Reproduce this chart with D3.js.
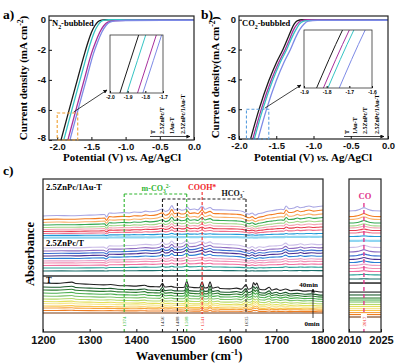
<!DOCTYPE html>
<html lang="en">
<head>
<meta charset="utf-8">
<title>LSV curves and in-situ DRIFTS spectra</title>
<script src="https://cdn.jsdelivr.net/npm/d3@7"></script>
<style>
  body { margin: 0; background: #fff; }
  svg { display: block; font-family: "Liberation Serif", "Times New Roman", serif; font-weight: bold; }
</style>
</head>
<body>
<script>
// ---------- panels a, b : LSV curves, [potential (V), current (mA cm-2)]
var n2T     = [[-1.95,-8.1],[-1.82,-5.9],[-1.70,-3.9],[-1.60,-2.25],[-1.55,-1.5],[-1.50,-0.85],[-1.45,-0.4],[-1.40,-0.12],[-1.35,-0.02],[-1.30,0],[0,0]];
var n2ZnT   = [[-1.91,-8.1],[-1.78,-5.9],[-1.66,-3.9],[-1.56,-2.25],[-1.51,-1.5],[-1.46,-0.85],[-1.41,-0.4],[-1.36,-0.12],[-1.31,-0.02],[-1.25,0],[0,0]];
var n2AuT   = [[-1.85,-8.1],[-1.72,-5.9],[-1.60,-3.9],[-1.50,-2.25],[-1.44,-1.5],[-1.38,-0.85],[-1.32,-0.4],[-1.26,-0.16],[-1.18,-0.07],[-1.00,-0.04],[0,-0.03]];
var n2ZnAuT = [[-1.82,-8.1],[-1.69,-5.9],[-1.57,-3.9],[-1.47,-2.25],[-1.41,-1.5],[-1.35,-0.85],[-1.29,-0.4],[-1.23,-0.16],[-1.15,-0.07],[-1.00,-0.05],[0,-0.04]];

var co2T     = [[-1.85,-8.1],[-1.73,-6.0],[-1.60,-4.1],[-1.50,-2.9],[-1.41,-2.0],[-1.35,-1.3],[-1.30,-0.7],[-1.26,-0.3],[-1.22,-0.08],[-1.15,0],[0,0]];
var co2AuT   = [[-1.82,-8.1],[-1.70,-6.0],[-1.57,-4.1],[-1.47,-2.9],[-1.38,-2.0],[-1.32,-1.3],[-1.27,-0.7],[-1.22,-0.3],[-1.17,-0.08],[-1.08,0],[0,0]];
var co2ZnT   = [[-1.80,-8.1],[-1.68,-6.0],[-1.55,-4.1],[-1.45,-2.9],[-1.36,-2.0],[-1.30,-1.3],[-1.24,-0.7],[-1.19,-0.3],[-1.13,-0.1],[-1.02,-0.04],[0,-0.03]];
var co2ZnAuT = [[-1.75,-8.1],[-1.63,-6.0],[-1.50,-4.1],[-1.40,-2.9],[-1.31,-2.0],[-1.25,-1.3],[-1.19,-0.7],[-1.13,-0.3],[-1.07,-0.1],[-0.95,-0.05],[0,-0.04]];

var lsvTicksX = [-2.0, -1.5, -1.0, -0.5, 0.0];
var lsvTicksY = [0, -2, -4, -6, -8];
var colT = "#1a1a1a", colZnT = "#35c4c4", colAuT = "#a8309c", colZnAuT = "#7d8ae6";

// ---------- panel c : DRIFTS spectra (wavenumber, absorbance a.u.)
var wnTicks = [1200, 1300, 1400, 1500, 1600, 1700, 1800];
var coTicks = [2010, 2025];

// 2.5ZnPc/1Au-T
var shapeZnAu = [[1200,0],[1230,0.3],[1260,0.2],[1290,0.5],[1320,0.8],[1332,1.0],[1336,-0.6],[1342,2.0],[1350,1.8],[1370,2.2],[1385,2.0],[1395,2.6],[1410,2.4],[1420,3.2],[1430,2.8],[1445,3.4],[1456,4.6],[1462,3.0],[1470,4.0],[1476,6.8],[1482,4.0],[1490,4.6],[1497,3.8],[1505,4.2],[1509,6.0],[1515,4.2],[1525,4.6],[1532,4.0],[1541,6.6],[1547,4.4],[1558,5.6],[1565,4.2],[1580,4.0],[1600,3.8],[1615,3.6],[1628,3.0],[1635,1.8],[1642,1.2],[1648,2.0],[1655,0.6],[1662,1.6],[1670,2.0],[1680,3.0],[1690,3.4],[1700,4.0],[1710,4.4],[1716,4.2],[1721,6.6],[1727,4.8],[1738,5.2],[1745,6.2],[1752,5.4],[1760,5.8],[1770,6.6],[1780,5.8],[1790,6.2],[1800,6.6]];
var offZnAu = [75.8, 73.5, 71.6, 69.9, 68.3, 67.0, 65.7, 64.4, 63.1, 61.6];
var ampZnAu = [1.0, 0.95, 0.85, 0.75, 0.65, 0.55, 0.45, 0.35, 0.2, 0.1];
var colZnAu = ["#a9a6e3", "#f37d22", "#f8b06a", "#33a852", "#a3d88a", "#f4a3b3", "#e73a4e", "#ee6f8c", "#2299d8", "#8fd6f2"];
var coOffZnAu = [79.1, 75.4, 73.5, 71.2, 69.3, 68.0, 66.3, 64.7, 62.4, 59.5];

// 2.5ZnPc/T
var shapeZn = [[1200,0],[1240,0.2],[1270,0.1],[1300,0.4],[1330,0.6],[1336,-0.3],[1342,1.4],[1360,1.3],[1380,1.6],[1400,1.8],[1420,2.4],[1435,2.0],[1450,2.6],[1456,4.0],[1462,2.4],[1470,2.8],[1476,4.6],[1482,2.8],[1495,2.8],[1501,3.4],[1508,5.0],[1514,3.0],[1525,3.2],[1541,4.6],[1547,3.0],[1558,4.0],[1565,2.8],[1580,2.6],[1600,2.2],[1620,1.8],[1635,0.6],[1642,0.0],[1648,1.0],[1655,-0.2],[1663,0.8],[1672,0.4],[1685,1.2],[1700,1.4],[1712,1.8],[1720,3.2],[1727,1.8],[1745,2.2],[1752,2.8],[1760,2.0],[1775,2.6],[1790,2.2],[1800,2.4]];
var offZn = [54.9, 52.9, 51.3, 49.7, 48.0, 46.4, 45.1, 43.5, 41.8, 39.9, 36.6];
var ampZn = [1.0, 0.95, 0.85, 0.8, 0.7, 0.55, 0.45, 0.35, 0.25, 0.1, 0];
var colZn = ["#cbbde8", "#8e6cc0", "#3b6fd0", "#4b2f93", "#2a7fd4", "#e9a1c8", "#f28fb4", "#f06fa0", "#2aa198", "#1b6e6a", "#333333"];
var coOffZn = [55.2, 52.3, 49.7, 47.4, 45.4, 43.5, 41.5, 39.5, 37.3, 34.6, 32.0];

// T
var shapeT = [[1200,0],[1230,-0.2],[1262,0.6],[1270,-0.3],[1300,-0.8],[1330,-1.2],[1345,-1.0],[1360,-1.6],[1380,-1.8],[1400,-2.0],[1418,-1.4],[1425,-2.2],[1440,-2.4],[1450,-2.5],[1456,-0.2],[1461,-2.6],[1475,-2.2],[1482,-2.8],[1495,-2.9],[1503,-2.7],[1508,1.2],[1513,-2.6],[1525,-3.0],[1535,-3.1],[1541,0.8],[1546,-3.2],[1553,-3.0],[1558,0.8],[1563,-3.3],[1575,-2.6],[1580,-3.6],[1600,-3.8],[1615,-3.3],[1625,-4.0],[1635,-1.2],[1640,-4.1],[1648,-3.0],[1651,0.4],[1655,-1.2],[1658,0.0],[1664,-4.0],[1675,-4.4],[1685,-2.8],[1690,-4.6],[1700,-3.8],[1708,-4.8],[1720,-3.9],[1730,-5.0],[1745,-4.6],[1760,-5.3],[1775,-5.0],[1790,-5.7],[1800,-5.9]];
var offT = [32.0, 29.4, 27.5, 25.5, 23.5, 21.6, 19.9, 18.6, 17.0, 15.7, 14.1, 12.4];
var ampT = [1.0, 0.9, 0.8, 0.7, 0.6, 0.55, 0.5, 0.45, 0.35, 0.25, 0.15, 0];
var colTgrp = ["#222222", "#1e5c2e", "#2e7d32", "#4caf50", "#7cc26a", "#b5d96a", "#e3e05a", "#f5e68c", "#f9c74f", "#f6a03c", "#ef7d22", "#7a3b10"];
var coOffT = [26.1, 24.2, 22.2, 20.9, 19.6, 18.0, 16.7, 15.4, 14.1, 12.7, 11.4, 9.8];

// CO band around 2017 cm-1 (relative profile)
var coShape = [[2010,0],[2012,0.05],[2014,0.25],[2015.5,0.6],[2017,1],[2018.5,0.6],[2020,0.25],[2022,0.05],[2025,0]];
var coPeak = [2.2, 1.6, 0];

var peaks = [1374, 1456, 1488, 1508, 1541, 1635];
var peakColors = ["#2fb52f", "#222", "#222", "#2fb52f", "#f02828", "#222"];

var svg = d3.select("body").append("svg").attr("width", 401).attr("height", 364);
var defs = svg.append("defs");
defs.append("marker").attr("id", "arr").attr("viewBox", "0 0 10 10")
    .attr("refX", 9).attr("refY", 5).attr("markerWidth", 5).attr("markerHeight", 5)
    .attr("orient", "auto")
  .append("path").attr("d", "M0,0L10,5L0,10z").attr("fill", "#111");

// text with sub/superscripts; parts = [[text, "sub"|"sup"|"", italic]]
function rich(sel, parts, size) {
    var cur = 0;
    parts.forEach(function(p) {
        var target = p[1] === "sub" ? size * 0.3 : (p[1] === "sup" ? -size * 0.4 : 0);
        var t = sel.append("tspan").attr("dy", target - cur).text(p[0]);
        if (p[1]) t.attr("font-size", size * 0.7);
        if (p[2]) t.attr("font-style", "italic");
        cur = target;
    });
    return sel;
}

function fmtV(d) { return d.toFixed(1); }

function drawLSV(o) {
    var g = svg.append("g");
    var x = d3.scaleLinear().domain(o.xDom).range([o.left, o.right]);
    var y = d3.scaleLinear().domain([-8, 0.25]).range([o.bottom, o.top]);
    var line = d3.line().curve(d3.curveMonotoneX)
        .x(function(d) { return x(d[0]); }).y(function(d) { return y(d[1]); });

    defs.append("clipPath").attr("id", o.id + "clip").append("rect")
        .attr("x", o.left).attr("y", o.top).attr("width", o.right - o.left).attr("height", o.bottom - o.top);

    g.append("g").attr("clip-path", "url(#" + o.id + "clip)")
        .selectAll("path").data(o.curves).enter().append("path")
        .attr("d", function(d) { return line(d.pts); })
        .attr("fill", "none").attr("stroke", function(d) { return d.color; }).attr("stroke-width", 1.3);

    var xa = g.append("g").attr("transform", "translate(0," + o.bottom + ")")
        .call(d3.axisBottom(x).tickValues(lsvTicksX).tickFormat(fmtV).tickSize(-3).tickPadding(3));
    var ya = g.append("g").attr("transform", "translate(" + o.left + ",0)")
        .call(d3.axisLeft(y).tickValues(lsvTicksY).tickFormat(function(d) { return String(d); }).tickSize(-3).tickPadding(3));
    [xa, ya].forEach(function(a) {
        a.select(".domain").remove();
        a.selectAll("text").attr("font-size", 9.5).attr("font-family", null).attr("fill", "#111");
        a.selectAll("line").attr("stroke", "#111");
    });
    // lift the bottom y label a little so it clears the first x label
    ya.selectAll(".tick").filter(function(d) { return d === -8; }).select("text").attr("dy", "0.1em");
    g.append("rect").attr("x", o.left).attr("y", o.top)
        .attr("width", o.right - o.left).attr("height", o.bottom - o.top)
        .attr("fill", "none").attr("stroke", "#222").attr("stroke-width", 1.2);

    // dashed zoom box
    var b = o.inset;
    g.append("rect").attr("x", x(b.xDom[0])).attr("y", y(b.yDom[1]))
        .attr("width", x(b.xDom[1]) - x(b.xDom[0])).attr("height", y(b.yDom[0]) - y(b.yDom[1]))
        .attr("fill", "none").attr("stroke", o.boxColor).attr("stroke-width", 1.1).attr("stroke-dasharray", "3,2");
    g.append("line").attr("x1", x(b.xDom[1]) - 4).attr("y1", y(b.yDom[1]) - 1)
        .attr("x2", b.x0 - 3).attr("y2", b.y1 - 3)
        .attr("stroke", "#111").attr("stroke-width", 0.8).attr("marker-end", "url(#arr)");

    // inset
    var ix = d3.scaleLinear().domain(b.xDom).range([b.x0, b.x1]);
    var iy = d3.scaleLinear().domain(b.yDom).range([b.y1, b.y0]);
    var iline = d3.line().curve(d3.curveMonotoneX)
        .x(function(d) { return ix(d[0]); }).y(function(d) { return iy(d[1]); });
    defs.append("clipPath").attr("id", o.id + "iclip").append("rect")
        .attr("x", b.x0).attr("y", b.y0).attr("width", b.x1 - b.x0).attr("height", b.y1 - b.y0);
    g.append("rect").attr("x", b.x0).attr("y", b.y0).attr("width", b.x1 - b.x0).attr("height", b.y1 - b.y0)
        .attr("fill", "#fff");
    g.append("g").attr("clip-path", "url(#" + o.id + "iclip)")
        .selectAll("path").data(o.curves).enter().append("path")
        .attr("d", function(d) { return iline(d.pts); })
        .attr("fill", "none").attr("stroke", function(d) { return d.color; }).attr("stroke-width", 1);
    var ia = g.append("g").attr("transform", "translate(0," + b.y1 + ")")
        .call(d3.axisBottom(ix).tickValues(b.ticks).tickFormat(fmtV).tickSize(-2).tickPadding(2));
    ia.select(".domain").remove();
    ia.selectAll("text").attr("font-size", 5).attr("font-family", null);
    g.append("rect").attr("x", b.x0).attr("y", b.y0).attr("width", b.x1 - b.x0).attr("height", b.y1 - b.y0)
        .attr("fill", "none").attr("stroke", "#333").attr("stroke-width", 0.8);

    // titles
    rich(g.append("text").attr("x", o.left + 3).attr("y", 26).attr("font-size", 8.5), o.gas, 8.5);
    rich(g.append("text").attr("transform", "translate(" + o.yTitleX + "," + ((o.top + o.bottom) / 2) + ") rotate(-90)")
        .attr("text-anchor", "middle").attr("font-size", 11),
        [[o.yTitle, ""], ["-2", "sup"], [")", ""]], 11);
    rich(g.append("text").attr("x", o.xTitleX).attr("y", 161).attr("text-anchor", "middle").attr("font-size", 11),
        [["Potential (V) ", ""], ["vs.", "", true], [" Ag/AgCl", ""]], 11);
    g.append("text").attr("x", o.labelX).attr("y", 19).attr("font-size", 13.5).text(o.label);

    // rotated legend
    o.legend.forEach(function(name, i) {
        g.append("text").attr("transform", "translate(" + o.legendX[i] + ",134) rotate(-90)")
            .attr("dy", "0.35em").attr("font-size", 6).text(name);
    });
    g.append("line").attr("x1", o.legendX[0] - 3).attr("x2", o.legendX[3] + 7)
        .attr("y1", 136.5).attr("y2", 136.5)
        .attr("stroke", "#111").attr("stroke-width", 0.8).attr("marker-end", "url(#arr)");
}

drawLSV({
    id: "a", label: "a)", labelX: 3, left: 49, right: 194, top: 16, bottom: 140, xDom: [-2.12, 0],
    curves: [{pts: n2T, color: colT}, {pts: n2ZnT, color: colZnT}, {pts: n2AuT, color: colAuT}, {pts: n2ZnAuT, color: colZnAuT}],
    inset: {x0: 110, x1: 163, y0: 35, y1: 93, xDom: [-2.0, -1.7], yDom: [-8, -6.2], ticks: [-2.0, -1.9, -1.8, -1.7]},
    boxColor: "#f0a030",
    gas: [["N", ""], ["2", "sub"], ["-bubbled", ""]],
    yTitle: "Current density (mA cm", yTitleX: 27, xTitleX: 122,
    legend: ["T", "2.5ZnPc/T", "1Au-T", "2.5ZnPc/1Au-T"], legendX: [153, 162, 172, 183]
});
drawLSV({
    id: "b", label: "b)", labelX: 201, left: 239, right: 388, top: 16, bottom: 139, xDom: [-2.0, 0],
    curves: [{pts: co2T, color: colT}, {pts: co2AuT, color: colAuT}, {pts: co2ZnT, color: colZnT}, {pts: co2ZnAuT, color: colZnAuT}],
    inset: {x0: 304, x1: 372, y0: 30, y1: 88, xDom: [-1.9, -1.6], yDom: [-8, -6], ticks: [-1.9, -1.8, -1.7, -1.6]},
    boxColor: "#5a9fe0",
    gas: [["CO", ""], ["2", "sub"], ["-bubbled", ""]],
    yTitle: "Current density(mA cm", yTitleX: 219, xTitleX: 313,
    legend: ["T", "1Au-T", "2.5ZnPc/T", "2.5ZnPc/1Au-T"], legendX: [347, 355, 365, 377]
});

// ---------- panel c
var cTop = 179, cBottom = 332;
var xw = d3.scaleLinear().domain([1200, 1800]).range([43, 323]);
var xc = d3.scaleLinear().domain([2010, 2025]).range([349, 381]);
var ya = d3.scaleLinear().domain([0, 100]).range([cBottom, cTop]);

var groups = [
    {shape: shapeZnAu, offs: offZnAu, amps: ampZnAu, colors: colZnAu, coOffs: coOffZnAu, co: coPeak[0]},
    {shape: shapeZn, offs: offZn, amps: ampZn, colors: colZn, coOffs: coOffZn, co: coPeak[1]},
    {shape: shapeT, offs: offT, amps: ampT, colors: colTgrp, coOffs: coOffT, co: coPeak[2]}
];
var spectra = [];
groups.forEach(function(gr, gi) {
    gr.offs.forEach(function(off, i) {
        spectra.push({
            color: gr.colors[i],
            width: (gi === 0 && i === gr.offs.length - 1) ? 2.2 : ((gi === 1 && i === gr.offs.length - 1) ? 1.6 : 1.1),
            main: gr.shape.map(function(p) { return [p[0], off + gr.amps[i] * p[1]]; }),
            co: coShape.map(function(p) { return [p[0], gr.coOffs[i] + gr.co * gr.amps[i] * p[1]]; })
        });
    });
});
spectra.reverse();

var lineMain = d3.line().curve(d3.curveMonotoneX).x(function(d) { return xw(d[0]); }).y(function(d) { return ya(d[1]); });
var lineCO = d3.line().curve(d3.curveMonotoneX).x(function(d) { return xc(d[0]); }).y(function(d) { return ya(d[1]); });

defs.append("clipPath").attr("id", "cclip").append("rect").attr("x", 43).attr("y", cTop).attr("width", 280).attr("height", cBottom - cTop);
defs.append("clipPath").attr("id", "coclip").append("rect").attr("x", 349).attr("y", cTop).attr("width", 32).attr("height", cBottom - cTop);

var gc = svg.append("g");
gc.append("g").attr("clip-path", "url(#cclip)").selectAll("path").data(spectra).enter().append("path")
    .attr("d", function(d) { return lineMain(d.main); })
    .attr("fill", "none").attr("stroke", function(d) { return d.color; }).attr("stroke-width", function(d) { return d.width; });
gc.append("g").attr("clip-path", "url(#coclip)").selectAll("path").data(spectra).enter().append("path")
    .attr("d", function(d) { return lineCO(d.co); })
    .attr("fill", "none").attr("stroke", function(d) { return d.color; }).attr("stroke-width", function(d) { return d.width; });

// dashed guide boxes and peak lines
var dash = "3,2";
function vline(wn, top, color) {
    gc.append("line").attr("x1", xw(wn)).attr("x2", xw(wn)).attr("y1", top).attr("y2", cBottom)
        .attr("stroke", color).attr("stroke-width", 1.1).attr("stroke-dasharray", dash);
}
var tops = [194, 199, 203, 194, 192, 199];
peaks.forEach(function(p, i) { vline(p, tops[i], peakColors[i]); });
gc.append("line").attr("x1", xw(1374)).attr("x2", xw(1508)).attr("y1", 194).attr("y2", 194)
    .attr("stroke", peakColors[0]).attr("stroke-width", 1.1).attr("stroke-dasharray", dash);
gc.append("line").attr("x1", xw(1456)).attr("x2", xw(1635)).attr("y1", 199).attr("y2", 199)
    .attr("stroke", "#222").attr("stroke-width", 1.1).attr("stroke-dasharray", dash);
gc.append("line").attr("x1", xc(2017)).attr("x2", xc(2017)).attr("y1", 203).attr("y2", cBottom)
    .attr("stroke", "#e0308a").attr("stroke-width", 1.3).attr("stroke-dasharray", "4,3");

// peak position labels
peaks.forEach(function(p, i) {
    gc.append("rect").attr("x", xw(p) - 3).attr("y", 314).attr("width", 6).attr("height", 15).attr("fill", "#fff");
    gc.append("text").attr("transform", "translate(" + xw(p) + ",321.5) rotate(-90)")
        .attr("text-anchor", "middle").attr("dy", "0.35em").attr("font-size", 5).attr("font-weight", "normal")
        .attr("fill", peakColors[i]).text(p);
});
gc.append("rect").attr("x", xc(2017) - 3).attr("y", 314).attr("width", 6).attr("height", 15).attr("fill", "#fff");
gc.append("text").attr("transform", "translate(" + xc(2017) + ",321.5) rotate(-90)")
    .attr("text-anchor", "middle").attr("dy", "0.35em").attr("font-size", 5).attr("font-weight", "normal")
    .attr("fill", "#f02828").text("2017");

// axes
var ax1 = gc.append("g").attr("transform", "translate(0," + cBottom + ")")
    .call(d3.axisBottom(xw).tickValues(wnTicks).tickFormat(d3.format("d")).tickSize(-3).tickPadding(4));
var ax2 = gc.append("g").attr("transform", "translate(0," + cBottom + ")")
    .call(d3.axisBottom(xc).tickValues(coTicks).tickFormat(d3.format("d")).tickSize(-3).tickPadding(4));
[ax1, ax2].forEach(function(a) {
    a.select(".domain").remove();
    a.selectAll("text").attr("font-size", 11).attr("font-family", null).attr("fill", "#111");
    a.selectAll("line").attr("stroke", "#111");
});
gc.append("rect").attr("x", 43).attr("y", cTop).attr("width", 280).attr("height", cBottom - cTop)
    .attr("fill", "none").attr("stroke", "#222").attr("stroke-width", 1.2);
gc.append("rect").attr("x", 349).attr("y", cTop).attr("width", 32).attr("height", cBottom - cTop)
    .attr("fill", "none").attr("stroke", "#222").attr("stroke-width", 1.2);

// labels
gc.append("text").attr("x", 3).attr("y", 175).attr("font-size", 13.5).text("c)");
gc.append("text").attr("x", 46).attr("y", 190).attr("font-size", 8.5).text("2.5ZnPc/1Au-T");
gc.append("text").attr("x", 46).attr("y", 246).attr("font-size", 8.5).text("2.5ZnPc/T");
gc.append("text").attr("x", 46).attr("y", 283).attr("font-size", 8.5).text("T");
rich(gc.append("text").attr("x", 156).attr("y", 191).attr("text-anchor", "middle").attr("font-size", 8).attr("fill", "#2fb52f"),
    [["m-CO", ""], ["3", "sub"], ["2-", "sup"]], 8);
gc.append("text").attr("x", xw(1541)).attr("y", 190).attr("text-anchor", "middle").attr("font-size", 8)
    .attr("fill", "#f02828").text("COOH*");
rich(gc.append("text").attr("x", 233).attr("y", 196).attr("text-anchor", "middle").attr("font-size", 8).attr("fill", "#111"),
    [["HCO", ""], ["3", "sub"], ["-", "sup"]], 8);
gc.append("text").attr("x", xc(2017) + 1).attr("y", 199).attr("text-anchor", "middle").attr("font-size", 8.5)
    .attr("fill", "#e0308a").text("CO");
gc.append("text").attr("x", 318).attr("y", 287).attr("text-anchor", "end").attr("font-size", 7).text("40min");
gc.append("text").attr("x", 312).attr("y", 326).attr("text-anchor", "middle").attr("font-size", 7).text("0min");
gc.append("line").attr("x1", 313).attr("x2", 313).attr("y1", 318).attr("y2", 289)
    .attr("stroke", "#111").attr("stroke-width", 0.8).attr("marker-end", "url(#arr)");

gc.append("text").attr("transform", "translate(30,254) rotate(-90)").attr("text-anchor", "middle")
    .attr("dy", "0.35em").attr("font-size", 12.5).text("Absorbance");
rich(gc.append("text").attr("x", 189).attr("y", 359.5).attr("text-anchor", "middle").attr("font-size", 12.5),
    [["Wavenumber (cm", ""], ["-1", "sup"], [")", ""]], 12.5);
</script>
</body>
</html>
